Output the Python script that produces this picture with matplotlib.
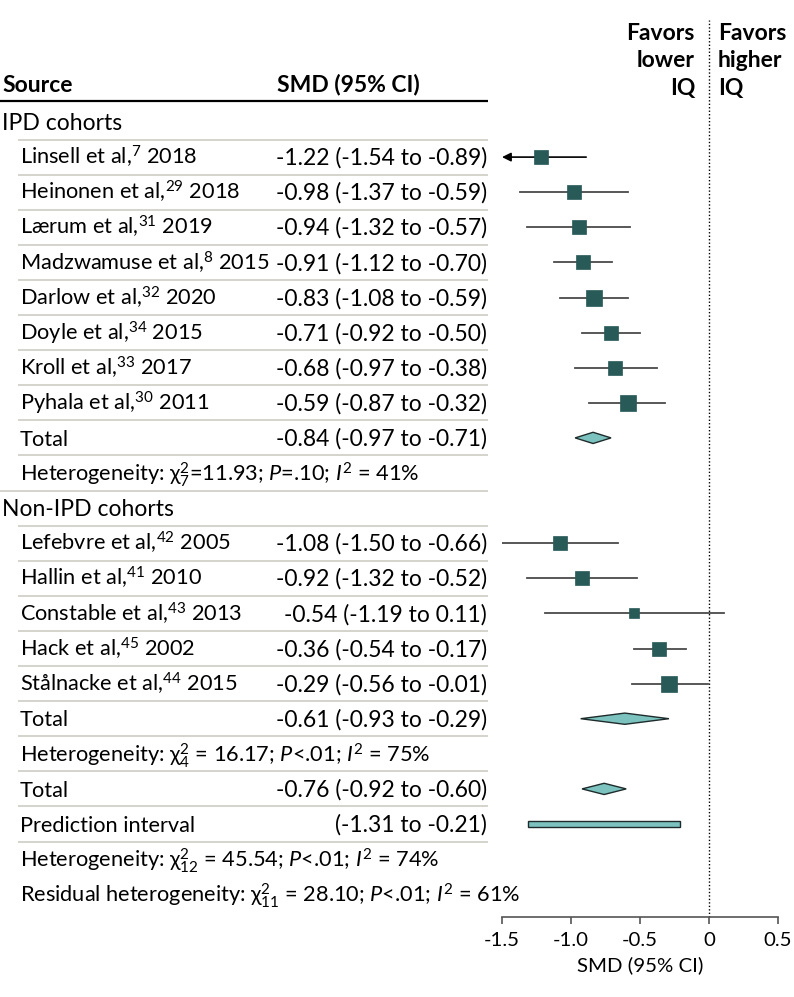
import numpy as np
import matplotlib
matplotlib.use('Agg')
import matplotlib.pyplot as plt
import matplotlib.transforms as mtransforms
from matplotlib.patches import Polygon, Rectangle

plt.rcParams['font.family'] = ['Lato', 'DejaVu Sans']
plt.rcParams['mathtext.fontset'] = 'custom'
plt.rcParams['mathtext.rm'] = 'Lato'
plt.rcParams['mathtext.it'] = 'Lato:italic'
plt.rcParams['mathtext.bf'] = 'Lato:bold'
plt.rcParams['mathtext.fallback'] = 'stixsans'

# ---- data ---------------------------------------------------------------
ipd_names = [r"Linsell et al,$^{7}$ 2018", r"Heinonen et al,$^{29}$ 2018",
             r"Lærum et al,$^{31}$ 2019", r"Madzwamuse et al,$^{8}$ 2015",
             r"Darlow et al,$^{32}$ 2020", r"Doyle et al,$^{34}$ 2015",
             r"Kroll et al,$^{33}$ 2017", r"Pyhala et al,$^{30}$ 2011"]
ipd_smd = [-1.22, -0.98, -0.94, -0.91, -0.83, -0.71, -0.68, -0.59]
ipd_lo = [-1.54, -1.37, -1.32, -1.12, -1.08, -0.92, -0.97, -0.87]
ipd_hi = [-0.89, -0.59, -0.57, -0.70, -0.59, -0.50, -0.38, -0.32]
ipd_weight = [8.0, 8.0, 6.9, 8.0, 9.2, 8.0, 8.0, 9.2]

non_names = [r"Lefebvre et al,$^{42}$ 2005", r"Hallin et al,$^{41}$ 2010",
             r"Constable et al,$^{43}$ 2013", r"Hack et al,$^{45}$ 2002",
             r"Stålnacke et al,$^{44}$ 2015"]
non_smd = [-1.08, -0.92, -0.54, -0.36, -0.29]
non_lo = [-1.50, -1.32, -1.19, -0.54, -0.56]
non_hi = [-0.66, -0.52, 0.11, -0.17, -0.01]
non_weight = [6.9, 6.9, 4.1, 8.0, 9.2]

ipd_total = (-0.84, -0.97, -0.71)
non_total = (-0.61, -0.93, -0.29)
all_total = (-0.76, -0.92, -0.60)
pred_int = (-1.31, -0.21)

ipd_het = r"Heterogeneity: $\mathrm{\chi}^{2}_{7}$=11.93; $P$=.10; $I^{2}$ = 41%"
non_het = r"Heterogeneity: $\mathrm{\chi}^{2}_{4}$ = 16.17; $P$<.01; $I^{2}$ = 75%"
all_het = r"Heterogeneity: $\mathrm{\chi}^{2}_{12}$ = 45.54; $P$<.01; $I^{2}$ = 74%"
res_het = r"Residual heterogeneity: $\mathrm{\chi}^{2}_{11}$ = 28.10; $P$<.01; $I^{2}$ = 61%"

xticks = [-1.5, -1.0, -0.5, 0, 0.5]
xticklabels = ["-1.5", "-1.0", "-0.5", "0", "0.5"]
favors_left = ["Favors", "lower", "IQ"]
favors_right = ["Favors", "higher", "IQ"]

# ---- style --------------------------------------------------------------
W, H = 794, 997
sq_color = '#285a58'
ci_color = '#4a4a4a'
dia_fill = '#7cc3c0'
edge_color = '#1e2b2b'
sep_color = '#cdcdc4'
fs = 16.5       # numbers / headers
fs_lab = 15.7   # row labels (reference font is condensed)
row_px = 35.1
row0_px = 122


def X(px):
    return px / W


def ci_text(est, lo, hi):
    return "%.2f (%.2f to %.2f)" % (est, lo, hi)


fig = plt.figure(figsize=(W / 100, H / 100), dpi=100)
ax_top, ax_bot = 20, 917
ax = fig.add_axes([X(502), 1 - ax_bot / H, X(778) - X(502), (ax_bot - ax_top) / H])
ax.set_xlim(-1.5, 0.5)
ax.set_ylim((ax_bot - row0_px) / row_px, (ax_top - row0_px) / row_px)
trans = mtransforms.blended_transform_factory(fig.transFigure, ax.transData)

# rows layout
rows = []
rows.append(('group', "IPD cohorts", None))
for i in range(len(ipd_names)):
    rows.append(('study', ipd_names[i], (ipd_smd[i], ipd_lo[i], ipd_hi[i], ipd_weight[i])))
rows.append(('total', "Total", ipd_total))
rows.append(('het', ipd_het, None))
rows.append(('group', "Non-IPD cohorts", None))
for i in range(len(non_names)):
    rows.append(('study', non_names[i], (non_smd[i], non_lo[i], non_hi[i], non_weight[i])))
rows.append(('total', "Total", non_total))
rows.append(('het', non_het, None))
rows.append(('total', "Total", all_total))
rows.append(('pred', "Prediction interval", pred_int))
rows.append(('het', all_het, None))
rows.append(('het', res_het, None))

base = 0.22  # baseline offset (rows)

# header
ax.text(X(2), -1.08 + base, "Source", transform=trans, fontsize=fs,
        fontweight='bold', va='baseline', ha='left', clip_on=False)
ax.text(X(277), -1.08 + base, "SMD (95% CI)", transform=trans, fontsize=fs,
        fontweight='bold', va='baseline', ha='left', clip_on=False)
ax.plot([X(0), X(488)], [-0.6, -0.6], transform=trans, color='black', lw=1.6,
        clip_on=False, solid_capstyle='butt')

for k, lab in enumerate(favors_left):
    y = (32 + 27.5 * k - row0_px) / row_px
    ax.text(X(695), y + base, lab, transform=trans, fontsize=fs, fontweight='bold',
            ha='right', va='baseline', clip_on=False)
for k, lab in enumerate(favors_right):
    y = (32 + 27.5 * k - row0_px) / row_px
    ax.text(X(718), y + base, lab, transform=trans, fontsize=fs, fontweight='bold',
            ha='left', va='baseline', clip_on=False)

for r, (kind, label, vals) in enumerate(rows):
    xl = 2 if kind == 'group' else 20
    ax.text(X(xl), r + base, label, transform=trans,
            fontsize=fs if kind == 'group' else fs_lab,
            ha='left', va='baseline', clip_on=False)
    if kind == 'study':
        est, lo, hi, w = vals
        ax.text(X(487), r + base, ci_text(est, lo, hi), transform=trans,
                fontsize=fs, ha='right', va='baseline', clip_on=False)
        if lo < -1.5:
            ax.annotate('', xy=(-1.5, r), xytext=(hi, r),
                        arrowprops=dict(arrowstyle='-|>', color='black', lw=1.2,
                                        mutation_scale=13, shrinkA=0, shrinkB=0))
        else:
            ax.plot([lo, hi], [r, r], color=ci_color, lw=1.3, zorder=2)
        side = 4.95 * np.sqrt(w) * 0.72
        ax.plot(est, r, marker='s', ms=side, color=sq_color, mec=sq_color,
                mew=0.5, zorder=3)
    elif kind == 'total':
        est, lo, hi = vals
        ax.text(X(487), r + base, ci_text(est, lo, hi), transform=trans,
                fontsize=fs, ha='right', va='baseline', clip_on=False)
        h = 0.16
        ax.add_patch(Polygon([(lo, r), (est, r - h), (hi, r), (est, r + h)],
                             closed=True, facecolor=dia_fill, edgecolor=edge_color,
                             lw=1.0, zorder=3))
    elif kind == 'pred':
        lo, hi = vals
        ax.text(X(487), r + base, "(%.2f to %.2f)" % (lo, hi), transform=trans,
                fontsize=fs, ha='right', va='baseline', clip_on=False)
        h = 0.075
        ax.add_patch(Rectangle((lo, r - h), hi - lo, 2 * h, facecolor=dia_fill,
                               edgecolor=edge_color, lw=1.0, zorder=3))
    # separator below row
    if r <= 20:
        x0 = 0 if r == 10 else 18
        ax.plot([X(x0), X(488)], [r + 0.5, r + 0.5], transform=trans,
                color=sep_color, lw=1.2, clip_on=False, solid_capstyle='butt')

ax.axvline(0, color='black', ls=(0, (1, 1.5)), lw=1.0, zorder=1)

for s in ['top', 'left', 'right']:
    ax.spines[s].set_visible(False)
ax.spines['bottom'].set_color('#555555')
ax.spines['bottom'].set_linewidth(1.2)
ax.set_yticks([])
ax.set_xticks(xticks)
ax.set_xticklabels(xticklabels)
ax.tick_params(axis='x', direction='out', length=5, width=1.2, color='#555555',
               labelsize=14.7, pad=6)
ax.set_xlabel("SMD (95% CI)", fontsize=14.7, labelpad=5)

fig.savefig('out.png', dpi=100)
